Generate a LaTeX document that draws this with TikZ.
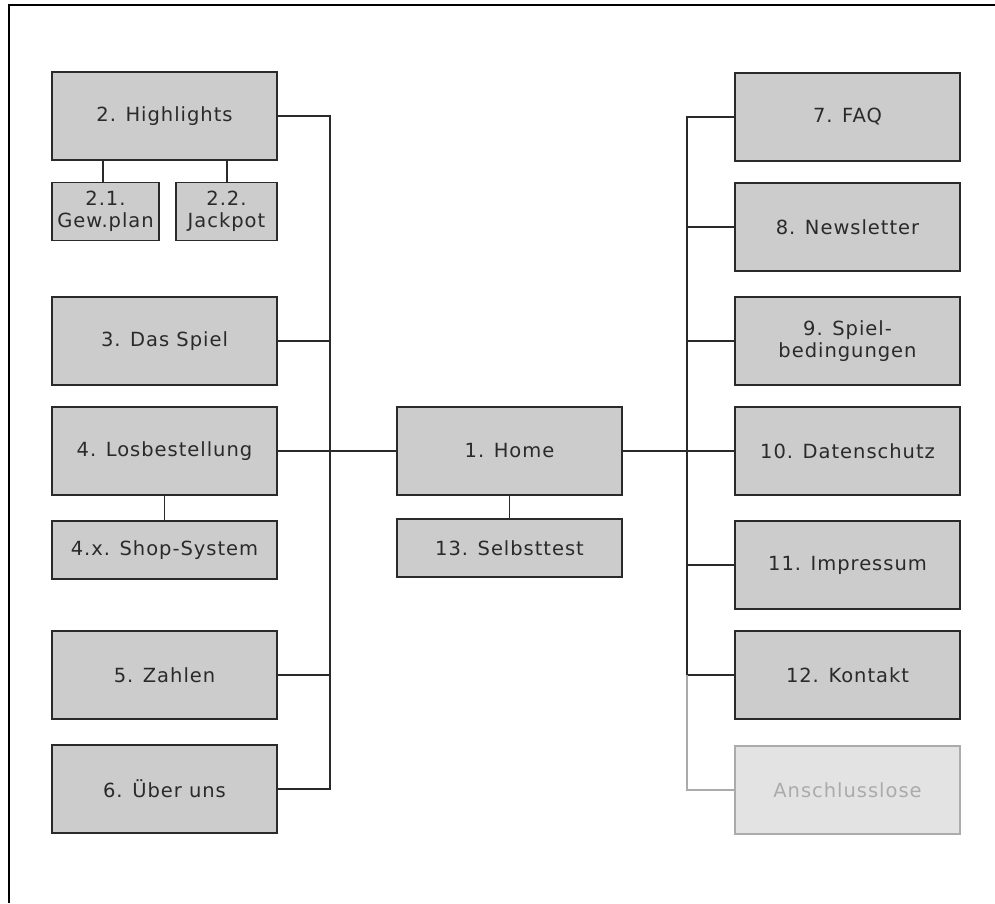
\documentclass[tikz,border=0pt]{standalone}
\usepackage{fontspec}
\setmainfont{DejaVu Sans}[LetterSpace=5]
\usepackage{xcolor}
\definecolor{boxfill}{HTML}{CCCCCC}
\definecolor{boxline}{HTML}{2A2A2A}
\definecolor{offfill}{HTML}{E3E3E3}
\definecolor{offline}{HTML}{ABABAB}

\tikzset{
    page/.style={inner sep=0pt, align=center, font=\fontsize{19.5}{22}\selectfont, text=boxline,
        draw=boxline, fill=boxfill, line width=1.6pt, minimum width=225pt, minimum height=88pt},
    subpage/.style={page, minimum height=58pt},
    offpage/.style={page, draw=offline, fill=offfill, text=offline},
    link/.style={line width=1.8pt, draw=boxline}
}

\begin{document}
\begin{tikzpicture}[x=1pt, y=-1pt]
    \useasboundingbox (0,0) rectangle (995,903);
    \draw[line width=1.8pt] (995,5) -- (9,5) -- (9,903);

    % left branch
    \node[page] (hl) at (164.5,116) {2. Highlights};
    \node[subpage, minimum width=107pt] (gew) at (105.5,211.5) {2.1.\\Gew.plan};
    \node[subpage, minimum width=101pt] (jack) at (226.5,211.5) {2.2.\\Jackpot};
    \node[page] (spiel) at (164.5,341) {3. Das Spiel};
    \node[page] (los) at (164.5,451) {4. Losbestellung};
    \node[subpage] (shop) at (164.5,550) {4.x. Shop-System};
    \node[page] (zahlen) at (164.5,675) {5. Zahlen};
    \node[page] (ueber) at (164.5,789) {6. Über uns};

    % centre
    \node[page] (home) at (509.5,451) {1. Home};
    \node[subpage] (selbst) at (509.5,548) {13. Selbsttest};

    % right branch
    \node[page] (faq) at (847.5,117) {7. FAQ};
    \node[page] (news) at (847.5,227) {8. Newsletter};
    \node[page] (bed) at (847.5,341) {9. Spiel-\\bedingungen};
    \node[page] (daten) at (847.5,451) {10. Datenschutz};
    \node[page] (impr) at (847.5,565) {11. Impressum};
    \node[page] (kontakt) at (847.5,675) {12. Kontakt};
    \node[offpage] (anschl) at (847.5,790) {Anschlusslose};

    \coordinate (ls) at (330,0);
    \coordinate (rs) at (687,0);

    \draw[link] (hl.east) -| (ls |- ueber.east) -- (ueber.east);
    \foreach \n in {spiel, los, zahlen}
        \draw[link] (\n.east) -- (ls |- \n.east);
    \draw[link] ([xshift=-2.5pt]gew.north) -- ([xshift=-2.5pt]gew.north |- hl.south);
    \draw[link] ([xshift=0.5pt]jack.north) -- ([xshift=0.5pt]jack.north |- hl.south);
    \draw[link] (shop.north) -- (los.south);
    \draw[link] (los.east) -- (home.west);
    \draw[link] (selbst.north) -- (home.south);
    \draw[link] (home.east) -- (daten.west);

    \draw[link] (faq.west) -| (rs |- kontakt.west) -- (kontakt.west);
    \foreach \n in {news, bed, daten, impr}
        \draw[link] (\n.west) -- (rs |- \n.west);
    \draw[link, draw=offline] (rs |- kontakt.west) |- (anschl.west);
\end{tikzpicture}
\end{document}
